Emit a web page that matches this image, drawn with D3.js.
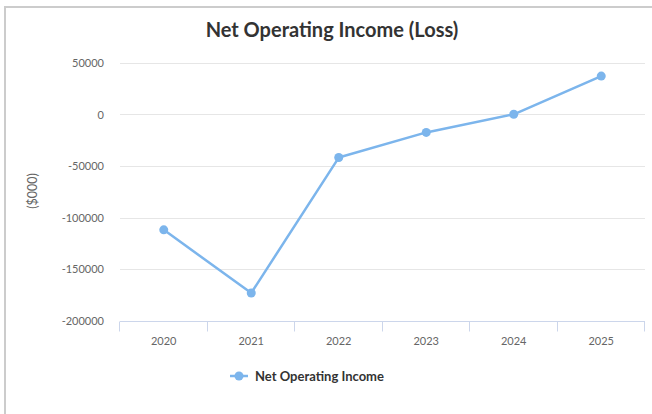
<!DOCTYPE html>
<html>
<head>
<meta charset="utf-8">
<script src="https://cdn.jsdelivr.net/npm/d3@7"></script>
<style>
  html, body { margin: 0; padding: 0; background: #fff; }
  svg { display: block; font-family: Lato, "Open Sans", sans-serif; }
</style>
</head>
<body>
<div id="chart"></div>
<script>
// chart data
const years = ["2020", "2021", "2022", "2023", "2024", "2025"];
const netOperatingIncome = [-112000, -173300, -41800, -17400, 200, 37300];
const yTicks = [50000, 0, -50000, -100000, -150000, -200000];

const width = 652, height = 414;
const margin = { top: 63, right: 7, bottom: 94, left: 120 };
const lineColor = "#7cb5ec";

const svg = d3.select("#chart")
    .append("svg")
    .attr("width", width)
    .attr("height", height);

// card border (clipped on the right and bottom)
svg.append("rect")
    .attr("x", 5)
    .attr("y", 7)
    .attr("width", width + 20)
    .attr("height", height + 20)
    .attr("fill", "none")
    .attr("stroke", "#cccccc")
    .attr("stroke-width", 2);

svg.append("text")
    .attr("x", 332)
    .attr("y", 37)
    .attr("text-anchor", "middle")
    .attr("font-size", "20px")
    .attr("font-weight", "bold")
    .attr("fill", "#333333")
    .text("Net Operating Income (Loss)");

const x = d3.scaleBand()
    .domain(years)
    .range([margin.left, width - margin.right]);

const y = d3.scaleLinear()
    .domain([-200000, 50000])
    .range([height - margin.bottom + 0.5, margin.top]);

// gridlines
svg.append("g")
    .selectAll("line")
    .data(yTicks.filter(d => d !== -200000))
    .join("line")
    .attr("x1", margin.left)
    .attr("x2", width - margin.right)
    .attr("y1", d => Math.round(y(d)) + 0.5)
    .attr("y2", d => Math.round(y(d)) + 0.5)
    .attr("stroke", "#e6e6e6")
    .attr("stroke-width", 1);

// y axis labels
svg.append("g")
    .selectAll("text")
    .data(yTicks)
    .join("text")
    .attr("x", 104)
    .attr("y", d => y(d) + 4)
    .attr("text-anchor", "end")
    .attr("font-size", "11px")
    .attr("fill", "#666666")
    .text(d => d);

svg.append("text")
    .attr("transform", `translate(37, 191) rotate(-90)`)
    .attr("text-anchor", "middle")
    .attr("font-size", "12.5px")
    .attr("fill", "#666666")
    .text("($000)");

// x axis
const xAxisY = Math.round(y(-200000)) + 0.5;
svg.append("line")
    .attr("x1", margin.left)
    .attr("x2", width - margin.right)
    .attr("y1", xAxisY)
    .attr("y2", xAxisY)
    .attr("stroke", "#ccd6eb");

const tickEdges = years.map(d => x(d)).concat([x.range()[1]]);
svg.append("g")
    .selectAll("line")
    .data(tickEdges)
    .join("line")
    .attr("x1", d => Math.round(d) - 0.5)
    .attr("x2", d => Math.round(d) - 0.5)
    .attr("y1", xAxisY)
    .attr("y2", xAxisY + 10)
    .attr("stroke", "#ccd6eb");

svg.append("g")
    .selectAll("text")
    .data(years)
    .join("text")
    .attr("x", d => x(d) + x.bandwidth() / 2)
    .attr("y", xAxisY + 23)
    .attr("text-anchor", "middle")
    .attr("font-size", "11px")
    .attr("fill", "#666666")
    .text(d => d);

// series
const points = years.map((d, i) => ({ year: d, value: netOperatingIncome[i] }));
const line = d3.line()
    .x(d => x(d.year) + x.bandwidth() / 2)
    .y(d => y(d.value));

svg.append("path")
    .datum(points)
    .attr("d", line)
    .attr("fill", "none")
    .attr("stroke", lineColor)
    .attr("stroke-width", 2.5)
    .attr("stroke-linejoin", "round");

svg.append("g")
    .selectAll("circle")
    .data(points)
    .join("circle")
    .attr("cx", d => x(d.year) + x.bandwidth() / 2)
    .attr("cy", d => y(d.value))
    .attr("r", 4.5)
    .attr("fill", lineColor);

// legend
const legend = svg.append("g").attr("transform", "translate(230, 376)");
legend.append("line")
    .attr("x1", 0)
    .attr("x2", 18)
    .attr("stroke", lineColor)
    .attr("stroke-width", 2.5);
legend.append("circle")
    .attr("cx", 9)
    .attr("r", 4.5)
    .attr("fill", lineColor);
legend.append("text")
    .attr("x", 25)
    .attr("y", 4.5)
    .attr("font-size", "13px")
    .attr("font-weight", "bold")
    .attr("fill", "#333333")
    .text("Net Operating Income");
</script>
</body>
</html>
